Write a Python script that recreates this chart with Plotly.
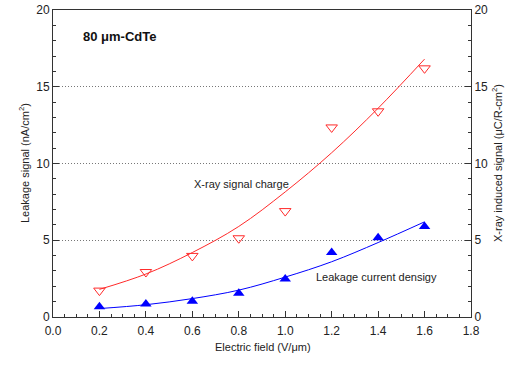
import plotly.graph_objects as go

field = [0.2, 0.4, 0.6, 0.8, 1.0, 1.2, 1.4, 1.6]
xray_signal = [1.72, 2.93, 3.98, 5.13, 6.9, 12.35, 13.4, 16.2]
leakage = [0.67, 0.85, 1.02, 1.55, 2.48, 4.2, 5.17, 5.9]
xray_fit = [1.8, 2.8, 4.2, 5.9, 8.15, 10.7, 13.6, 16.8]
leakage_fit = [0.55, 0.8, 1.2, 1.75, 2.6, 3.6, 4.85, 6.2]
y_ticks = [0, 5, 10, 15, 20]
x_ticks = [0.0, 0.2, 0.4, 0.6, 0.8, 1.0, 1.2, 1.4, 1.6, 1.8]

RED = "#ff2a2a"
BLUE = "#0000ff"
FONT = "Liberation Sans, Arial, sans-serif"

W, H = 514, 366
ML, MR, MT, MB = 53, 43, 10, 49
PW, PH = W - ML - MR, H - MT - MB

fig = go.Figure()
fig.add_trace(go.Scatter(x=field, y=xray_fit, mode="lines", line=dict(color=RED, width=1, shape="spline", smoothing=1.0), showlegend=False, yaxis="y2"))
fig.add_trace(go.Scatter(x=field, y=xray_signal, mode="markers", marker=dict(symbol="triangle-down-open", size=10, color=RED, line=dict(width=1, color=RED)), showlegend=False, yaxis="y2"))
fig.add_trace(go.Scatter(x=field, y=leakage_fit, mode="lines", line=dict(color=BLUE, width=1, shape="spline", smoothing=1.0), showlegend=False))
fig.add_trace(go.Scatter(x=field, y=leakage, mode="markers", marker=dict(symbol="triangle-up", size=10, color=BLUE), showlegend=False))

axis_common = dict(linecolor="#333", linewidth=1, ticks="inside", tickcolor="#333", ticklen=6,
                   tickfont=dict(family=FONT, size=12, color="#222"), zeroline=False, automargin=False)

fig.update_layout(
    width=W, height=H,
    margin=dict(l=ML, r=MR, t=MT, b=MB),
    plot_bgcolor="white", paper_bgcolor="white",
    font=dict(family=FONT, color="#222"),
    xaxis=dict(range=[0, 1.8], tickvals=x_ticks, ticktext=[f"{v:.1f}" for v in x_ticks],
               showgrid=False, mirror=True, ticklabelstandoff=3,
               minor=dict(dtick=0.05, ticks="inside", ticklen=3, tickcolor="#333"),
               **axis_common),
    yaxis=dict(range=[0, 20], tickvals=y_ticks, showgrid=True, gridcolor="#777", griddash="1px,2px", gridwidth=1,
               minor=dict(dtick=1, ticks="inside", ticklen=3, tickcolor="#333"),
               **axis_common),
    yaxis2=dict(range=[0, 20], tickvals=y_ticks, overlaying="y", side="right", showgrid=False,
                minor=dict(dtick=1, ticks="inside", ticklen=3, tickcolor="#333"),
                **axis_common),
)

def px_x(p):
    return (p - ML) / PW

def px_y(p):
    return (H - MB - p) / PH

fig.add_annotation(x=px_x(263), y=px_y(355), xref="paper", yref="paper", text="Electric field (V/\u03bcm)",
                   showarrow=False, font=dict(family=FONT, size=11, color="#222"))
fig.add_annotation(x=px_x(15), y=px_y(163), xref="paper", yref="paper",
                   text="Leakage signal (nA/cm<sup>2</sup>)", textangle=-90, showarrow=False,
                   font=dict(family=FONT, size=11, color="#222"))
fig.add_annotation(x=px_x(506), y=px_y(163), xref="paper", yref="paper",
                   text="X-ray induced signal (\u03bcC/R-cm<sup>2</sup>)", textangle=-90, showarrow=False,
                   font=dict(family=FONT, size=11, color="#222"))

fig.add_annotation(x=0.12, y=18.25, xref="x", yref="y", text="<b>80 \u03bcm-CdTe</b>", showarrow=False,
                   xanchor="left", yanchor="middle", font=dict(family=FONT, size=13, color="#111"))
fig.add_annotation(x=0.6, y=8.66, xref="x", yref="y", text="X-ray signal charge", showarrow=False,
                   xanchor="left", yanchor="middle", font=dict(family=FONT, size=11, color="#222"))
fig.add_annotation(x=1.125, y=2.63, xref="x", yref="y", text="Leakage current densigy", showarrow=False,
                   xanchor="left", yanchor="middle", font=dict(family=FONT, size=11, color="#222"))

fig.write_html("out.html", config={"displayModeBar": False},
               post_script="document.body.style.margin='0px';document.body.style.overflow='hidden';")
